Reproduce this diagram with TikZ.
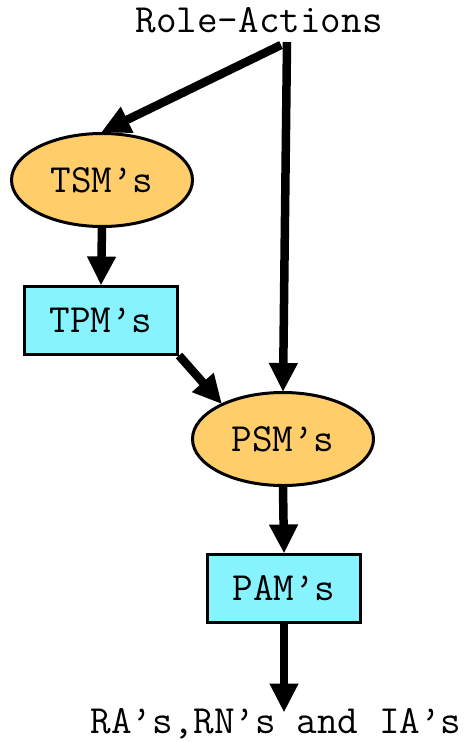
\documentclass[tikz,border=0pt]{standalone}
\usetikzlibrary{shapes.geometric,arrows.meta}
\definecolor{stateorange}{RGB}{255,206,106}
\definecolor{pmcyan}{RGB}{135,243,255}
\tikzset{
  txtfont/.style={font=\ttfamily\fontsize{40}{44}\selectfont},
  lbl/.style={txtfont, inner sep=0pt},
  statenode/.style={ellipse, draw=black, line width=3pt, fill=stateorange, minimum width=181pt, minimum height=93pt, inner sep=0pt, txtfont},
  pmnode/.style={rectangle, draw=black, line width=3pt, fill=pmcyan, minimum width=153pt, minimum height=68pt, inner sep=0pt, txtfont},
  arr/.style={line width=8.5pt, -{Triangle[length=29pt,width=27pt]}, shorten >=-1pt}
}
\begin{document}
\begin{tikzpicture}[x=1pt,y=-1pt]
\useasboundingbox (0,0) rectangle (472,742);
\node[lbl] (ra) at (259,20) {Role-Actions};
\node[statenode] (tsm) at (102,180) {TSM\textquoteright s};
\node[pmnode] (tpm) at (101,320) {TPM\textquoteright s};
\node[statenode] (psm) at (283,439) {PSM\textquoteright s};
\node[pmnode] (pam) at (284,588) {PAM\textquoteright s};
\node[lbl] (out) at (276,724) {RA\textquoteright s,RN\textquoteright s and IA\textquoteright s};
\coordinate (s1) at (281,45);
\coordinate (s2) at (287,42);
\draw[arr] (s1) -- (tsm.north);
\draw[arr] (s2) -- (psm.north);
\draw[arr] (tsm.south) -- (tpm.north);
\draw[arr] (tpm.south east) -- (psm.150);
\draw[arr] (psm.south) -- (pam.north);
\draw[arr] (pam.south) -- ([yshift=-3pt]pam.south |- out.north);
\end{tikzpicture}
\end{document}
